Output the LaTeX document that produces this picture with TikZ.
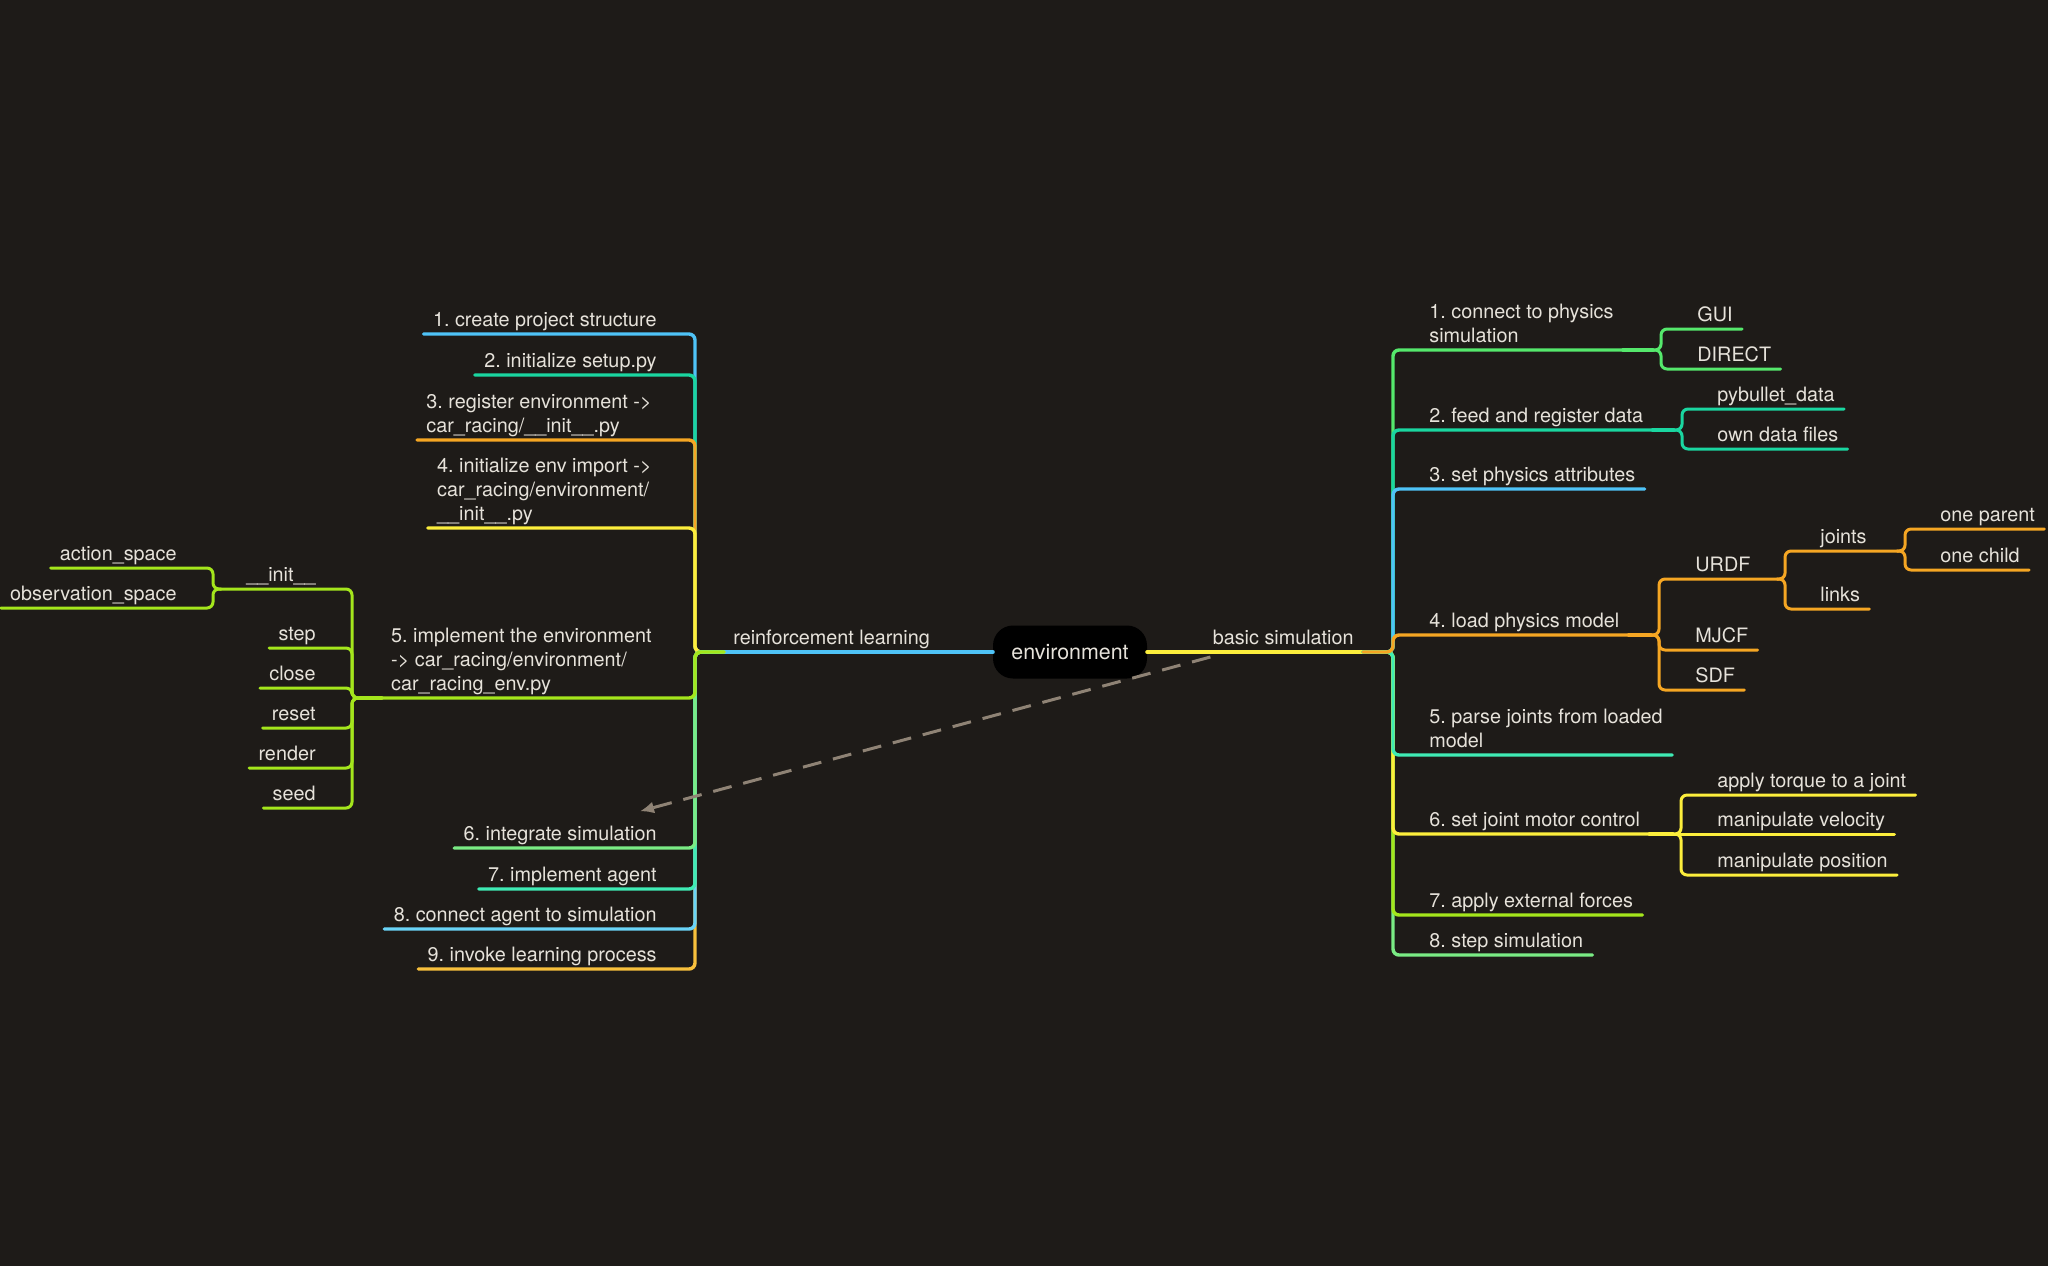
\documentclass[tikz,border=0pt]{standalone}
\usepackage{fontspec}
\setmainfont{TeX Gyre Heros}
\usepackage{xcolor}
\usetikzlibrary{arrows.meta}
\usetikzlibrary{calc}
\usetikzlibrary{positioning}
\frenchspacing
\definecolor{mapBack}{HTML}{1E1B18}
\definecolor{mapText}{HTML}{E6E2DA}
\definecolor{mapBlue}{HTML}{4FC3F7}
\definecolor{mapPale}{HTML}{6AD4F7}
\definecolor{mapTeal}{HTML}{1AD6A0}
\definecolor{mapAqua}{HTML}{3FEBB4}
\definecolor{mapMint}{HTML}{7AEB84}
\definecolor{mapGreen}{HTML}{55E86C}
\definecolor{mapLime}{HTML}{A4E61C}
\definecolor{mapYellow}{HTML}{FCEE3C}
\definecolor{mapOrange}{HTML}{F5A623}
\definecolor{mapAmber}{HTML}{F8C03C}
\definecolor{mapDash}{HTML}{8F8375}
\tikzset{
    topic/.style={
        text=mapText,
        font=\fontsize{9.9}{12}\selectfont,
        inner xsep=4.5pt,
        inner ysep=0pt,
        align=left,
        execute at end node=\strut,
    },
    left topic/.style={topic, anchor=south east},
    right topic/.style={topic, anchor=south west},
    central topic/.style={
        fill=black,
        text=mapText,
        rounded corners=10pt,
        minimum width=77pt,
        minimum height=26.5pt,
        font=\fontsize{10.7}{12}\selectfont,
    },
    trunk/.style={
        line width=2.2pt,
        line cap=round,
    },
    branch/.style={
        line width=1.7pt,
        line cap=round,
        rounded corners=3pt,
    },
    twig/.style={
        line width=1.5pt,
        line cap=round,
        rounded corners=3pt,
    },
    relation/.style={
        color=mapDash,
        line width=1.5pt,
        dash pattern=on 9.5pt off 6pt,
        -{Latex[length=7pt,width=6pt]},
    },
}
\begin{document}
\begin{tikzpicture}[x=0.5pt, y=-0.5pt]
    \useasboundingbox (0,0) rectangle (2048,1266);
    \fill[mapBack] (0,0) rectangle (2048,1266);

    \node[central topic] (env) at (1070,652) {environment};
    \node[right topic] (rl) at (724,652) {reinforcement learning};
    \node[left topic] (bs) at (1363,652) {basic simulation};
    \coordinate (rlspine) at (695,652);
    \coordinate (bsspine) at (1393,652);

    % reinforcement learning
    \node[left topic] (l1) at (666,334) {1. create project structure};
    \node[left topic] (l2) at (666,375) {2. initialize setup.py};
    \node[left topic] (l3) at (661,440) {3. register environment ->\\car\_racing/\_\_init\_\_.py};
    \node[left topic] (l4) at (661,528) {4. initialize env import ->\\car\_racing/environment/\\\_\_init\_\_.py};
    \node[left topic] (l5) at (661,698) {5. implement the environment\\-> car\_racing/environment/\\car\_racing\_env.py};
    \node[left topic] (l6) at (666,848) {6. integrate simulation};
    \node[left topic] (l7) at (666,889) {7. implement agent};
    \node[left topic] (l8) at (666,929) {8. connect agent to simulation};
    \node[left topic] (l9) at (666,969) {9. invoke learning process};

    \coordinate (l5join) at (360,698);
    \coordinate (l5brace) at (352,698);
    \node[left topic] (init) at (325,589) {\_\_init\_\_};
    \foreach \name/\ypos in {step/648, close/688, reset/728, render/768, seed/808}
    {
        \node[left topic] (\name) at (325,\ypos) {\name};
    }
    \coordinate (initjoin) at (221,589);
    \coordinate (initbrace) at (213,589);
    \node[left topic] (act) at (186,568) {action\_space};
    \node[left topic] (obs) at (186,608) {observation\_space};

    % basic simulation
    \node[right topic] (r1) at (1420,350) {1. connect to physics\\simulation};
    \node[right topic] (r2) at (1420,430) {2. feed and register data};
    \node[right topic] (r3) at (1420,489) {3. set physics attributes};
    \node[right topic] (r4) at (1420,635) {4. load physics model};
    \node[right topic] (r5) at (1420,755) {5. parse joints from loaded\\model};
    \node[right topic] (r6) at (1420,834) {6. set joint motor control};
    \node[right topic] (r7) at (1420,915) {7. apply external forces};
    \node[right topic] (r8) at (1420,955) {8. step simulation};

    \coordinate (r1join) at (1653,350);
    \coordinate (r1brace) at (1661,350);
    \node[right topic] (gui) at (1688,329) {GUI};
    \node[right topic] (direct) at (1688,369) {DIRECT};

    \coordinate (r2join) at (1674,430);
    \coordinate (r2brace) at (1682,430);
    \node[right topic] (pyb) at (1708,409) {pybullet\_data};
    \node[right topic] (own) at (1708,449) {own data files};

    \coordinate (r4join) at (1651,635);
    \coordinate (r4brace) at (1659,635);
    \node[right topic] (urdf) at (1686,579) {URDF};
    \node[right topic] (mjcf) at (1686,650) {MJCF};
    \node[right topic] (sdf) at (1686,690) {SDF};

    \coordinate (urdfjoin) at (1777,579);
    \coordinate (urdfbrace) at (1785,579);
    \node[right topic] (joints) at (1811,551) {joints};
    \node[right topic] (links) at (1811,609) {links};

    \coordinate (jointsjoin) at (1897,551);
    \coordinate (jointsbrace) at (1905,551);
    \node[right topic] (parent) at (1931,529) {one parent};
    \node[right topic] (child) at (1931,570) {one child};

    \coordinate (r6join) at (1673,834);
    \coordinate (r6brace) at (1681,834);
    \node[right topic] (torque) at (1708,795) {apply torque to a joint};
    \node[right topic] (vel) at (1708,834) {manipulate velocity};
    \node[right topic] (pos) at (1708,875) {manipulate position};

    % connectors
    \draw[trunk, mapBlue] (env.west) -- (rl.south west);
    \draw[trunk, mapYellow] (env.east) -- (bs.south east);

    \foreach \kid/\hue in {l1/mapBlue, l2/mapTeal, l3/mapOrange, l4/mapYellow, l9/mapAmber, l8/mapPale, l7/mapAqua, l6/mapMint, l5/mapLime}
    {
        \draw[branch, color=\hue] (rl.south west) -- (rlspine) -- (rlspine |- \kid.south) -- (\kid.south west);
    }
    \draw[branch, mapLime] (l5.south west) -- (l5join);
    \foreach \kid in {step, close, reset, render, seed}
    {
        \draw[twig, mapLime] (l5join) -- (l5brace) -- (l5brace |- \kid.south) -- (\kid.south west);
    }
    \draw[twig, mapLime] (l5join) -- (l5brace) -- (l5brace |- init.south) -- (init.south west) -- (initjoin);
    \foreach \kid in {act, obs}
    {
        \draw[twig, mapLime] (initjoin) -- (initbrace) -- (initbrace |- \kid.south) -- (\kid.south west);
    }

    \foreach \kid/\hue in {r1/mapGreen, r2/mapTeal, r3/mapBlue, r8/mapMint, r7/mapLime, r6/mapYellow, r5/mapAqua, r4/mapOrange}
    {
        \draw[branch, color=\hue] (bs.south east) -- (bsspine) -- (bsspine |- \kid.south) -- (\kid.south east);
    }
    \draw[branch, mapGreen] (r1.south east) -- (r1join);
    \draw[branch, mapTeal] (r2.south east) -- (r2join);
    \draw[branch, mapOrange] (r4.south east) -- (r4join);
    \draw[branch, mapYellow] (r6.south east) -- (r6join);

    \foreach \kid in {gui, direct}
    {
        \draw[twig, mapGreen] (r1join) -- (r1brace) -- (r1brace |- \kid.south) -- (\kid.south east);
    }
    \foreach \kid in {pyb, own}
    {
        \draw[twig, mapTeal] (r2join) -- (r2brace) -- (r2brace |- \kid.south) -- (\kid.south east);
    }
    \foreach \kid in {mjcf, sdf}
    {
        \draw[twig, mapOrange] (r4join) -- (r4brace) -- (r4brace |- \kid.south) -- (\kid.south east);
    }
    \draw[twig, mapOrange] (r4join) -- (r4brace) -- (r4brace |- urdf.south) -- (urdf.south east) -- (urdfjoin);
    \draw[twig, mapOrange] (urdfjoin) -- (urdfbrace) -- (urdfbrace |- links.south) -- (links.south east);
    \draw[twig, mapOrange] (urdfjoin) -- (urdfbrace) -- (urdfbrace |- joints.south) -- (joints.south east) -- (jointsjoin);
    \foreach \kid in {parent, child}
    {
        \draw[twig, mapOrange] (jointsjoin) -- (jointsbrace) -- (jointsbrace |- \kid.south) -- (\kid.south east);
    }
    \foreach \kid in {torque, pos}
    {
        \draw[twig, mapYellow] (r6join) -- (r6brace) -- (r6brace |- \kid.south) -- (\kid.south east);
    }
    \draw[twig, mapYellow] (r6join) -- (vel.south east);

    \draw[relation] ([shift={(3.5pt,-2.5pt)}]bs.south west) -- ([shift={(-13pt,6pt)}]l6.north east);
\end{tikzpicture}
\end{document}
